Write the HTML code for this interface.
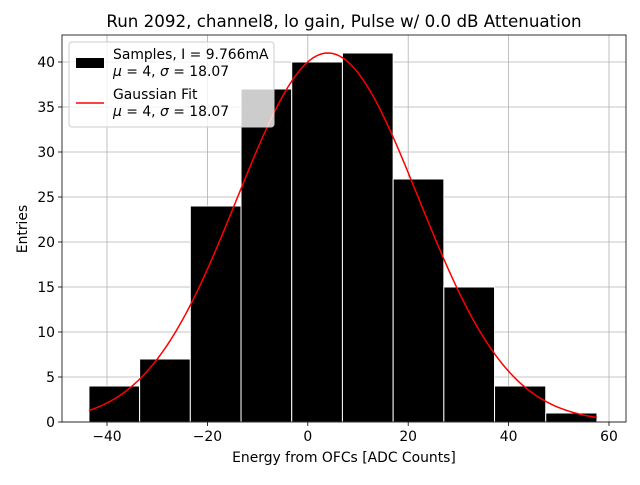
<!DOCTYPE html>
<html><head><meta charset="utf-8"><style>
body{margin:0;background:#fff;font-family:"Liberation Sans","DejaVu Sans",sans-serif}
svg text{font-family:"DejaVu Sans","Liberation Sans",sans-serif}
</style></head><body>
<svg id="c" width="640" height="480" xmlns="http://www.w3.org/2000/svg"></svg>
<script>
const binEdges=[-43.6,-33.5,-23.4,-13.3,-3.2,6.9,17.0,27.1,37.2,47.4,57.6];
const counts=[4,7,24,37,40,41,27,15,4,1];
const xTicks=[-40,-20,0,20,40,60];
const yTicks=[0,5,10,15,20,25,30,35,40];
const fitMu=[4];
const fitSigma=[18.07];
const fitPeak=[41];
const L=62,R=626,T=35,B=422;
const X=v=>107+(v+40)*5.02;
const Y=v=>B-v*9;
const s=document.getElementById('c');
const NS='http://www.w3.org/2000/svg';
function mk(t,a,p){const e=document.createElementNS(NS,t);for(const k in a)e.setAttribute(k,a[k]);(p||s).appendChild(e);return e;}
let e;
xTicks.forEach(v=>{e=mk('line',{x1:X(v),x2:X(v),y1:T,y2:B,stroke:'#b0b0b0','stroke-width':0.8});

});
yTicks.forEach(v=>{e=mk('line',{x1:L,x2:R,y1:Y(v),y2:Y(v),stroke:'#b0b0b0','stroke-width':0.8});

});
counts.forEach((c,i)=>{e=mk('rect',{x:X(binEdges[i]),y:Y(c),width:X(binEdges[i+1])-X(binEdges[i]),height:B-Y(c),fill:'#000',stroke:'#fff','stroke-width':1});

});
let d='';const x0=binEdges[0],x1=binEdges[binEdges.length-1];
for(let k=0;k<=200;k++){const v=x0+(x1-x0)*k/200;const y=fitPeak[0]*Math.exp(-0.5*Math.pow((v-fitMu[0])/fitSigma[0],2));d+=(k?'L':'M')+X(v).toFixed(2)+','+Y(y).toFixed(2);}
e=mk('path',{d:d,fill:'none',stroke:'red','stroke-width':1.5});


e=mk('rect',{x:L,y:T,width:R-L,height:B-T,fill:'none',stroke:'#000','stroke-width':0.8});


xTicks.forEach(v=>{mk('line',{x1:X(v),x2:X(v),y1:B,y2:B+4,stroke:'#000','stroke-width':0.8});
e=mk('text',{x:X(v),y:B+19,'text-anchor':'middle','font-size':13.9});e.textContent=v<0?'\u2212'+(-v):v;

});
yTicks.forEach(v=>{mk('line',{x1:L-4,x2:L,y1:Y(v),y2:Y(v),stroke:'#000','stroke-width':0.8});
e=mk('text',{x:L-7,y:Y(v)+5,'text-anchor':'end','font-size':13.9});e.textContent=v;

});
</script>
<svg width="640" height="480" style="position:absolute;left:0;top:0" xmlns="http://www.w3.org/2000/svg">
<text x="344" y="27" text-anchor="middle" font-size="16.7">Run 2092, channel8, lo gain, Pulse w/ 0.0 dB Attenuation</text>
<text x="344" y="462" text-anchor="middle" font-size="13.9">Energy from OFCs [ADC Counts]</text>
<text x="27" y="229" text-anchor="middle" font-size="13.9" transform="rotate(-90 27 229)">Entries</text>
<g>
<rect x="69" y="42" width="205" height="85" rx="3" fill="#fff" fill-opacity="0.8" stroke="#ccc"/>
<rect x="76" y="58" width="28" height="10" fill="#000"/>
<text x="113" y="59" font-size="13.9">Samples, I = 9.766mA</text>
<text x="113" y="76" font-size="13.9"><tspan font-style="italic">μ</tspan> = 4, <tspan font-style="italic">σ</tspan> = 18.07</text>
<line x1="76" x2="104" y1="103" y2="103" stroke="red" stroke-width="1.5"/>
<text x="113" y="99" font-size="13.9">Gaussian Fit</text>
<text x="113" y="116" font-size="13.9"><tspan font-style="italic">μ</tspan> = 4, <tspan font-style="italic">σ</tspan> = 18.07</text>
</g>
</svg>
</body></html>
